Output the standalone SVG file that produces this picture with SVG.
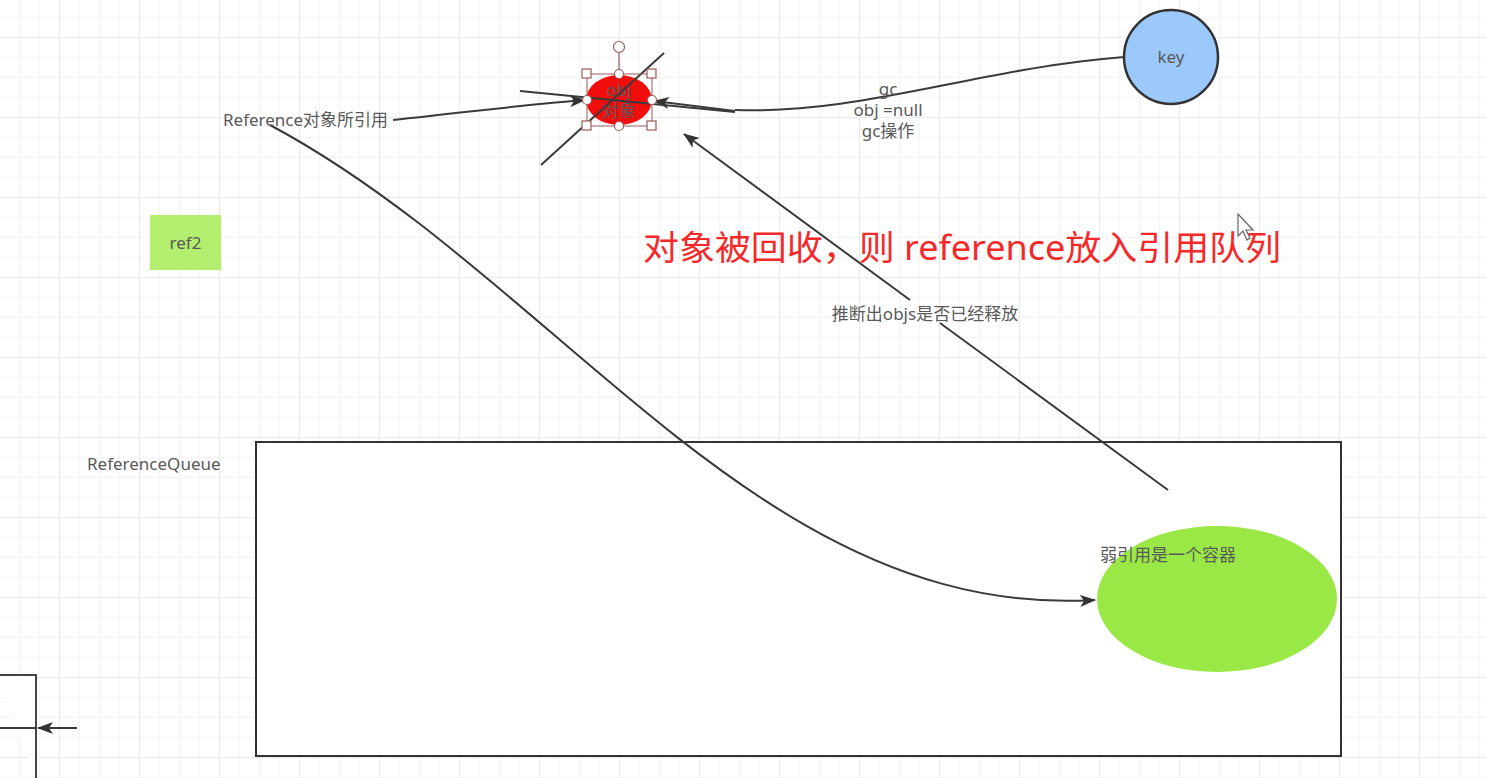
<svg xmlns="http://www.w3.org/2000/svg" width="1486" height="778" viewBox="0 0 1486 778">
<defs>
<pattern id="minor" width="20" height="20" patternUnits="userSpaceOnUse" x="19" y="17">
<path d="M0,0 H20 M0,0 V20" fill="none" stroke="#ececec" stroke-width="1"/>
</pattern>
<pattern id="major" width="80" height="80" patternUnits="userSpaceOnUse" x="59" y="37">
<path d="M0,0 H80 M0,0 V80" fill="none" stroke="#e2e2e2" stroke-width="1.2"/>
</pattern>
<marker id="arrL" viewBox="0 0 16 12" refX="15" refY="6" markerWidth="16" markerHeight="12" markerUnits="userSpaceOnUse" orient="auto">
<path d="M0,0 L16,6 L0,12 L4,6 Z" fill="#333"/>
</marker>
</defs>
<style>
.lbl{font-family:"Noto Sans","Noto Sans CJK SC",sans-serif;font-size:17px;fill:#595959}
.edge{fill:none;stroke:#3a3a3a;stroke-width:2}
.hdl{fill:#fff;stroke:#9a5a5a;stroke-width:1.2}
</style>
<rect width="1486" height="778" fill="#fff"/>
<rect width="1486" height="778" fill="url(#minor)"/>
<rect width="1486" height="778" fill="url(#major)"/>

<g id="queue">
<rect x="256" y="442" width="1085" height="314" fill="#fff" stroke="#333" stroke-width="2"/>
<text class="lbl" x="87" y="470">ReferenceQueue</text>
</g>

<g id="left-box">
<path d="M-2,675 H36 V780" fill="#fff" stroke="#444" stroke-width="2"/>
</g>

<g id="ref2">
<rect x="150" y="215" width="71" height="55" fill="#b3ee6e"/>
<text class="lbl" x="185.5" y="249" text-anchor="middle" fill="#444">ref2</text>
</g>

<g id="weak">
<ellipse cx="1217" cy="599" rx="120" ry="73" fill="#99e845"/>
<text class="lbl" x="1100" y="561" fill="#444">弱引用是一个容器</text>
</g>

<g id="key">
<circle cx="1171" cy="57" r="47" fill="#9cc9fb" stroke="#333" stroke-width="2.5"/>
<text class="lbl" x="1171" y="63" text-anchor="middle" fill="#444">key</text>
</g>

<g id="obj">
<ellipse cx="619" cy="100" rx="33" ry="25" fill="#f20d0d"/>
<text class="lbl" x="619" y="96" text-anchor="middle" fill="#8a2a2a">obj</text>
<text class="lbl" x="619" y="117" text-anchor="middle" fill="#8a2a2a">对象</text>
</g>

<g id="connectors">
<path class="edge" d="M393,120 C470,112 530,104 585,100" marker-end="url(#arrL)"/>
<path class="edge" d="M270,125 C560,280 760,620 1095,600" marker-end="url(#arrL)"/>
<path class="edge" d="M1124,57 C980,68 860,115 735,110" />
<path class="edge" d="M735,111 L654,101" stroke-width="3" marker-end="url(#arrL)"/>
<path class="edge" d="M1168,490 L940,323"/>
<path class="edge" d="M910,300 L684,134" marker-end="url(#arrL)"/>
<path class="edge" d="M520,91 L735,112"/>
<path class="edge" d="M541,165 L664,53"/>
<path class="edge" d="M0,728 H36"/>
<path class="edge" d="M77,728 H38" marker-end="url(#arrL)"/>
<text class="lbl" x="888" y="95" text-anchor="middle">gc</text>
<text class="lbl" x="888" y="116" text-anchor="middle">obj =null</text>
<text class="lbl" x="888" y="137" text-anchor="middle">gc操作</text>
<text class="lbl" x="223" y="126">Reference对象所引用</text>
<text class="lbl" x="925" y="320" text-anchor="middle">推断出objs是否已经释放</text>
</g>

<g id="selection">
<rect x="587" y="74" width="65" height="52" fill="none" stroke="#9a5a5a" stroke-width="1"/>
<line x1="619" y1="52" x2="619" y2="74" stroke="#9a5a5a" stroke-width="1.2"/>
<circle class="hdl" cx="619" cy="47" r="5.5"/>
<rect class="hdl" x="582" y="69" width="9" height="9"/>
<rect class="hdl" x="647" y="69" width="9" height="9"/>
<rect class="hdl" x="582" y="121" width="9" height="9"/>
<rect class="hdl" x="647" y="121" width="9" height="9"/>
<circle class="hdl" cx="619" cy="74" r="4.5"/>
<circle class="hdl" cx="619" cy="126" r="4.5"/>
<circle class="hdl" cx="587" cy="100" r="4.5"/>
<circle class="hdl" cx="652" cy="100" r="4.5"/>
</g>

<g id="note">
<text x="643" y="260" font-family="'Noto Sans','Noto Sans CJK SC',sans-serif" font-size="34" fill="#f5282a" textLength="638" lengthAdjust="spacingAndGlyphs">对象被回收，则 reference放入引用队列</text>
</g>

<g id="cursor">
<path d="M1238,214 L1238,236 L1243,231 L1247,240 L1250,238 L1246,230 L1253,230 Z" fill="#fff" stroke="#666" stroke-width="1.2"/>
</g>
</svg>
